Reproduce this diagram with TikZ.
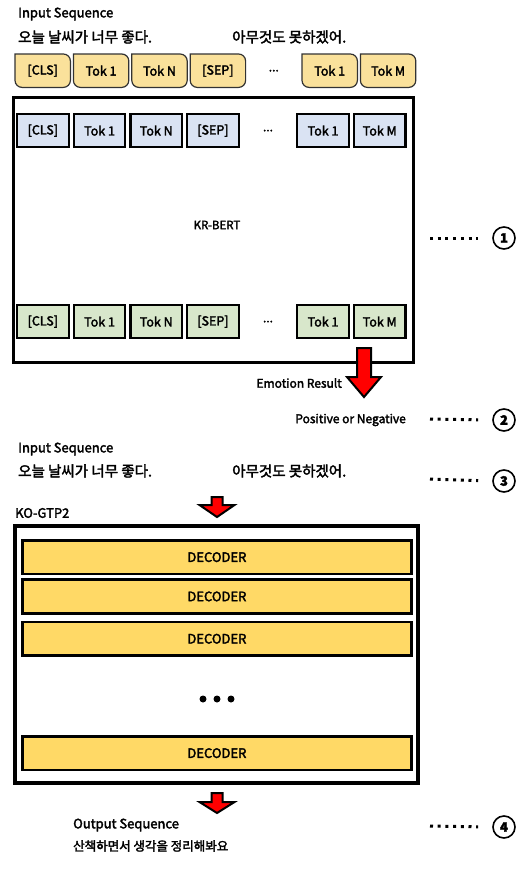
\documentclass[tikz,border=0pt]{standalone}
\usepackage{fontspec}
\setmainfont{Noto Sans CJK KR}[FakeBold=2.5]
\usetikzlibrary{positioning, backgrounds, calc}
\definecolor{tabyellow}{HTML}{FAE19B}
\definecolor{embblue}{HTML}{DAE3F3}
\definecolor{outgreen}{HTML}{D8E7CB}
\definecolor{decgold}{HTML}{FFD966}

% x, top, shaft half width, head top, head half width, tip
\newcommand{\blockarrow}[6]{%
  \draw[line width=2pt, fill=red, line join=miter] (#1-#3,#2) -- (#1+#3,#2) -- (#1+#3,#4)
    -- (#1+#5,#4) -- (#1,#6) -- (#1-#5,#4) -- (#1-#3,#4) -- cycle;}

\begin{document}
\begin{tikzpicture}[
        x=1pt, y=-1pt,
        node distance=3pt,
        txt/.style={anchor=west, inner sep=0pt, font=\fontsize{13}{15}\selectfont},
        kor/.style={anchor=west, inner sep=0pt, font=\fontsize{14.5}{17}\selectfont},
        small/.style={inner sep=0pt, font=\fontsize{12}{14}\selectfont},
        tab/.style={minimum width=55pt, minimum height=33pt, inner sep=0pt, font=\fontsize{12.5}{14}\selectfont},
        emb/.style={draw, line width=2.2pt, minimum width=51.5pt, minimum height=33pt, inner sep=0pt, font=\fontsize{12.5}{14}\selectfont},
        gap/.style={minimum width=50pt, minimum height=33pt, inner sep=0pt, font=\fontsize{12}{14}\selectfont},
        bigbox/.style={draw, line width=3pt, inner sep=0pt},
        decoder/.style={draw, line width=2.8pt, fill=decgold, minimum width=389pt, minimum height=33.5pt, inner sep=0pt, font=\fontsize{13}{15}\selectfont},
        num/.style={circle, draw, line width=1.6pt, minimum size=22pt, inner sep=0pt, font=\bfseries\fontsize{13}{15}\selectfont},
        leader/.style={line width=3pt, dash pattern=on 3pt off 4.7pt, shorten >=14pt}
    ]
    \useasboundingbox (0,0) rectangle (520,873);

    % input sequence (BERT)
    \node[txt] (in1) at (18,14) {Input Sequence};
    \node[kor] (sa1) at (18,37) {오늘 날씨가 너무 좋다.};
    \node[kor] (sb1) at (232,37) {아무것도 못하겠어.};

    \node[tab, anchor=north west] (tcls) at (15,54) {[CLS]};
    \node[tab, right=of tcls] (ttok1) {Tok 1};
    \node[tab, right=of ttok1] (ttokn) {Tok N};
    \node[tab, right=of ttokn] (tsep) {[SEP]};
    \node[gap, right=of tsep] (tdots) {...};
    \node[tab, right=of tdots] (ttoka) {Tok 1};
    \node[tab, right=of ttoka] (ttokm) {Tok M};
    \begin{scope}[on background layer]
      \foreach \n in {tcls,ttok1,ttokn,tsep,ttoka,ttokm}
        \filldraw[fill=tabyellow, draw=black!80, line width=1.2pt]
          (\n.north west) [rounded corners=7pt] -- (\n.south west) -- (\n.south east)
          -- (\n.north east) [sharp corners] -- cycle;
    \end{scope}

    % KR-BERT
    \node[bigbox, minimum width=400pt, minimum height=265pt, anchor=north west] (krbert) at (12,96) {};
    \node[font=\fontsize{11.5}{13}\selectfont] (krlabel) at (217,225) {KR-BERT};

    \node[emb, fill=embblue, anchor=north west] (bcls) at (16,113) {[CLS]};
    \node[emb, fill=embblue, right=of bcls] (btok1) {Tok 1};
    \node[emb, fill=embblue, right=of btok1] (btokn) {Tok N};
    \node[emb, fill=embblue, right=of btokn] (bsep) {[SEP]};
    \node[gap, right=of bsep] (bdots) {...};
    \node[emb, fill=embblue, right=of bdots] (btoka) {Tok 1};
    \node[emb, fill=embblue, right=of btoka] (btokm) {Tok M};

    \node[emb, fill=outgreen, anchor=north west] (gcls) at (16,304) {[CLS]};
    \node[emb, fill=outgreen, right=of gcls] (gtok1) {Tok 1};
    \node[emb, fill=outgreen, right=of gtok1] (gtokn) {Tok N};
    \node[emb, fill=outgreen, right=of gtokn] (gsep) {[SEP]};
    \node[gap, right=of gsep] (gdots) {...};
    \node[emb, fill=outgreen, right=of gdots] (gtoka) {Tok 1};
    \node[emb, fill=outgreen, right=of gtoka] (gtokm) {Tok M};

    % emotion result
    \blockarrow{364}{348}{7}{377}{17}{397}
    \node[small, anchor=east] (emo) at (342,383) {Emotion Result};
    \node[small, anchor=east] (posneg) at (406,420) {Positive or Negative};

    % input sequence (GPT2)
    \node[txt] (in2) at (18,449) {Input Sequence};
    \node[kor] (sa2) at (18,471) {오늘 날씨가 너무 좋다.};
    \node[kor] (sb2) at (232,471) {아무것도 못하겠어.};
    \blockarrow{217}{497}{5.5}{505}{17.5}{517}

    % KO-GTP2
    \node[txt] (kolabel) at (15,513) {KO-GTP2};
    \node[bigbox, line width=3.8pt, minimum width=403pt, minimum height=257pt, anchor=north west] (kogpt) at (13,524) {};
    \node[decoder, anchor=north west] (dec1) at (21,539) {DECODER};
    \node[decoder, below=of dec1] (dec2) {DECODER};
    \node[decoder, below=6pt of dec2] (dec3) {DECODER};
    \node[decoder, anchor=north west] (dec4) at (21,735) {DECODER};
    \foreach \dx in {-14,0,14}
      \fill (217+\dx,699) circle (3.5pt);

    % output sequence
    \blockarrow{217}{793}{5.5}{802}{17.5}{813}
    \node[txt] (out) at (73,825) {Output Sequence};
    \node[txt, font=\fontsize{12.5}{15}\selectfont] (outs) at (73,846) {산책하면서 생각을 정리해봐요};

    % step markers
    \node[num] (n1) at (504,238) {1};
    \node[num] (n2) at (504,420) {2};
    \node[num] (n3) at (504,481) {3};
    \node[num] (n4) at (504,827) {4};
    \coordinate (l1) at (430,238);
    \coordinate (l2) at (430,419);
    \coordinate (l3) at (430,479);
    \coordinate (l4) at (430,826);
    \draw[leader] (l1) -- (n1.west);
    \draw[leader] (l2) -- (n2.west);
    \draw[leader] (l3) -- (n3.west);
    \draw[leader] (l4) -- (n4.west);
\end{tikzpicture}
\end{document}
